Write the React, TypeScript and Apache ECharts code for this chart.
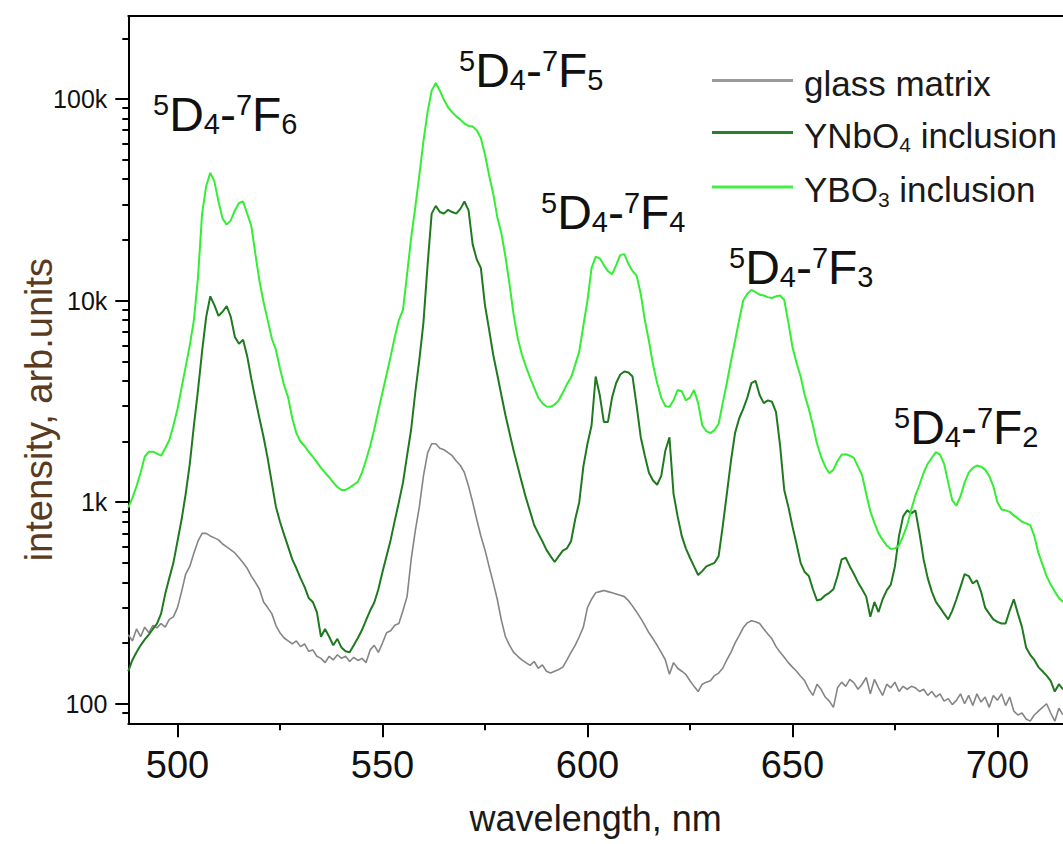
import { useEffect, useRef } from "react";
import * as echarts from "echarts";

// ---- data ----
const wavelengths = [
  488, 489, 490, 491, 492, 493, 494, 495, 496, 497,
  498, 499, 500, 501, 502, 503, 504, 505, 506, 507,
  508, 509, 510, 511, 512, 513, 514, 515, 516, 517,
  518, 519, 520, 521, 522, 523, 524, 525, 526, 527,
  528, 529, 530, 531, 532, 533, 534, 535, 536, 537,
  538, 539, 540, 541, 542, 543, 544, 545, 546, 547,
  548, 549, 550, 551, 552, 553, 554, 555, 556, 557,
  558, 559, 560, 561, 562, 563, 564, 565, 566, 567,
  568, 569, 570, 571, 572, 573, 574, 575, 576, 577,
  578, 579, 580, 581, 582, 583, 584, 585, 586, 587,
  588, 589, 590, 591, 592, 593, 594, 595, 596, 597,
  598, 599, 600, 601, 602, 603, 604, 605, 606, 607,
  608, 609, 610, 611, 612, 613, 614, 615, 616, 617,
  618, 619, 620, 621, 622, 623, 624, 625, 626, 627,
  628, 629, 630, 631, 632, 633, 634, 635, 636, 637,
  638, 639, 640, 641, 642, 643, 644, 645, 646, 647,
  648, 649, 650, 651, 652, 653, 654, 655, 656, 657,
  658, 659, 660, 661, 662, 663, 664, 665, 666, 667,
  668, 669, 670, 671, 672, 673, 674, 675, 676, 677,
  678, 679, 680, 681, 682, 683, 684, 685, 686, 687,
  688, 689, 690, 691, 692, 693, 694, 695, 696, 697,
  698, 699, 700, 701, 702, 703, 704, 705, 706, 707,
  708, 709, 710, 711, 712, 713, 714, 715, 716,
];

const glassMatrix = [
  220, 205, 235, 215, 240, 225, 245, 238, 250, 240,
  262, 270, 300, 360, 440, 480, 560, 640, 700, 700,
  680, 665, 650, 620, 600, 580, 560, 530, 500, 470,
  430, 400, 370, 320, 300, 280, 245, 225, 212, 205,
  198, 205, 192, 198, 182, 185, 172, 168, 160, 172,
  165, 175, 168, 172, 162, 170, 164, 168, 160, 185,
  195, 180, 200, 225, 230, 245, 250, 290, 340, 520,
  720, 950, 1350, 1750, 1950, 1950, 1850, 1820, 1760, 1700,
  1600, 1520, 1400, 1200, 1000, 820, 680, 580, 480, 400,
  330, 260, 215, 195, 180, 172, 165, 160, 155, 162,
  150, 156, 145, 142, 145, 148, 152, 165, 180, 195,
  215, 240, 300, 330, 355, 360, 365, 360, 355, 350,
  345, 340, 325, 305, 285, 265, 245, 225, 210, 195,
  180, 165, 140, 160, 150, 145, 140, 130, 122, 115,
  125, 128, 130, 138, 142, 150, 165, 180, 200, 218,
  238, 252, 258, 255, 250, 235, 222, 210, 192, 180,
  170, 160, 152, 145, 137, 130, 118, 110, 125, 118,
  108, 103, 96, 120, 128, 122, 132, 127, 118, 125,
  135, 112, 132, 120, 110, 125, 120, 128, 115, 122,
  118, 122, 120, 115, 118, 110, 115, 108, 112, 103,
  106, 99, 104, 112, 100, 110, 98, 112, 102, 108,
  96, 110, 104, 112, 98, 108, 92, 88, 90, 84,
  82, 88, 92, 96, 100, 90, 82, 95, 88,
];

const ynbo4Inclusion = [
  145, 165, 180, 195, 208, 220, 235, 250, 280, 350,
  420, 500, 640, 820, 1100, 1550, 2400, 3600, 5600, 8300,
  10500, 9500, 8400, 8800, 9400, 8300, 6600, 6100, 6400, 5300,
  4100, 3250, 2600, 2100, 1650, 1250, 950, 800, 690, 600,
  520, 470, 420, 380, 335, 320, 285, 215, 235, 215,
  195, 210, 190, 182, 180, 195, 212, 232, 260, 290,
  318, 370, 450, 540, 650, 810, 1000, 1250, 1700, 2300,
  3500, 5100, 7800, 15000, 27000, 29500, 27500, 27000, 28200, 27500,
  27000, 28500, 31000, 28000, 19000, 16000, 14500, 9500, 7200, 5400,
  4300, 3400, 2700, 2200, 1800, 1500, 1250, 1050, 900, 770,
  700, 640, 580, 540, 505, 540, 575, 590, 640, 820,
  1000, 1500, 1950, 2400, 4200, 3400, 2500, 2500, 3300, 3900,
  4300, 4450, 4400, 4200, 3000, 2100, 1700, 1400, 1280, 1220,
  1350, 1800, 2100, 1100, 850, 680, 590, 530, 480, 435,
  455, 480, 490, 500, 540, 760, 1100, 1600, 2200, 2600,
  2900, 3300, 3900, 4000, 3400, 3100, 3200, 3150, 2800, 1900,
  1150, 950, 760, 620, 500, 450, 430, 370, 325, 330,
  345, 355, 370, 430, 520, 530, 480, 440, 400, 370,
  340, 270, 320, 285, 330, 365, 390, 480, 680, 850,
  910, 880, 910, 700, 520, 420, 360, 320, 300, 280,
  262, 290, 330, 380, 440, 430, 395, 410, 360, 300,
  280, 262, 255, 250, 250, 290, 330, 280, 240, 190,
  175, 165, 152, 145, 138, 130, 115, 125, 118,
];

const ybo3Inclusion = [
  940, 1050, 1200, 1400, 1680, 1780, 1780, 1740, 1700, 1850,
  2030, 2400, 2900, 3700, 4700, 6000, 8000, 13000, 27000, 37000,
  43000, 39000, 31000, 25500, 23800, 25000, 28000, 30500, 31000, 27000,
  23500, 17000, 12500, 9800, 8000, 6500, 5700, 4600, 3800, 3300,
  2600, 2200, 2000, 1900, 1780, 1680, 1580, 1480, 1400, 1330,
  1250, 1190, 1150, 1150, 1180, 1220, 1260, 1400, 1620, 1900,
  2300, 2850, 3500, 4300, 5300, 6600, 8000, 9000, 13500, 20500,
  29000, 42000, 62000, 86000, 110000, 120000, 110000, 99000, 91000, 86000,
  82000, 79000, 75500, 73500, 73000, 70000, 64000, 53000, 42000, 34000,
  26000, 21600, 16500, 12000, 8500, 6500, 5400, 4700, 4150, 3700,
  3300, 3100, 2980, 2970, 3050, 3200, 3500, 3850, 4150, 4800,
  5600, 7500, 10000, 14500, 16500, 16200, 15000, 14000, 13500, 15000,
  16800, 17000, 15200, 14000, 13300, 10800, 8000, 6300, 4800, 3900,
  3300, 3000, 2970, 3200, 3600, 3550, 3200, 3300, 3600, 3100,
  2400, 2250, 2200, 2280, 2450, 3100, 3900, 5000, 6300, 8000,
  10000, 10800, 11300, 11000, 10700, 10600, 10400, 10300, 10500, 10600,
  10100, 7800, 5900, 4900, 4200, 3400, 2900, 2400, 1950, 1680,
  1500, 1390, 1450, 1600, 1720, 1730, 1700, 1660, 1500, 1360,
  1100, 900, 790, 700, 650, 610, 585, 590, 610, 680,
  770, 920, 1080, 1220, 1400, 1550, 1660, 1770, 1720, 1550,
  1250, 1020, 960, 1070, 1250, 1400, 1480, 1520, 1500, 1450,
  1350, 1200, 1000, 920, 910, 895, 860, 830, 800, 785,
  770, 680, 560, 490, 430, 390, 360, 335, 320,
];

const seriesNames = ["glass matrix", "YNbO4 inclusion", "YBO3 inclusion"];
const xMajorTicks = [500, 550, 600, 650, 700];
const xMinorTicks = [525, 575, 625, 675];
const yMajorTicks = [100, 1000, 10000, 100000];
const yTickLabels = ["100", "1k", "10k", "100k"];
const yMinorTicks = [
  90, 200, 300, 400, 500, 600, 700, 800, 900,
  2000, 3000, 4000, 5000, 6000, 7000, 8000, 9000,
  20000, 30000, 40000, 50000, 60000, 70000, 80000, 90000, 200000,
];
const transitionFinalJ = ["6", "5", "4", "3", "2"];

const FONT = "'Liberation Sans', Arial, Helvetica, sans-serif";

export default function App() {
  const ref = useRef<HTMLDivElement>(null);

  useEffect(() => {
    if (!ref.current) return;
    const chart = echarts.init(ref.current, null, { renderer: "svg" });

    const pairs = (vals: number[]) => wavelengths.map((w, i) => [w, vals[i]]);
    const colors = ["#858585", "#1f7a1f", "#33ee33"];
    const legendColors = ["#9a9a9a", "#2a7f2a", "#44ee44"];
    const widths = [1.6, 2, 2];
    const values = [glassMatrix, ynbo4Inclusion, ybo3Inclusion];

    const labelPos = [
      [153, 90],
      [459, 46],
      [541, 188],
      [729, 243],
      [894, 403],
    ];

    const axisBlack = { color: "#000", width: 2 };

    const option: any = {
      animation: false,
      backgroundColor: "#ffffff",
      textStyle: { fontFamily: FONT },
      grid: {
        left: 128.3,
        right: 0,
        top: 16,
        bottom: 120.7,
        containLabel: false,
        outerBoundsMode: "none",
      },
      legend: {
        orient: "vertical",
        left: 712,
        top: 65.5,
        padding: 0,
        icon: "rect",
        itemWidth: 81,
        itemHeight: 3,
        itemGap: 17,
        data: seriesNames.map((name, k) => ({ name, itemStyle: { color: legendColors[k] } })),
        formatter: (name: string) => "{t|" + name.replace(/(\d)/g, "}{s|$1}{t|") + "}",
        textStyle: {
          fontFamily: FONT,
          color: "#1a1a1a",
          padding: [5, 0, 0, 6],
          rich: {
            t: { fontSize: 35, lineHeight: 40, fontFamily: FONT, color: "#1a1a1a" },
            s: { fontSize: 21, lineHeight: 22, verticalAlign: "bottom", fontFamily: FONT, color: "#1a1a1a" },
          },
        },
      },
      xAxis: [
        {
          type: "value",
          min: 488,
          max: 716,
          position: "bottom",
          axisLine: { show: true, lineStyle: axisBlack },
          axisTick: { show: true, customValues: xMajorTicks, length: 14, lineStyle: axisBlack },
          axisLabel: { customValues: xMajorTicks, margin: 23, fontSize: 38, color: "#111", fontFamily: FONT },
          splitLine: { show: false },
          name: "wavelength, nm",
          nameLocation: "middle",
          nameGap: 77,
          nameMoveOverlap: false,
          nameTextStyle: { fontSize: 36, color: "#1a1a1a", fontFamily: FONT },
        },
        {
          type: "value",
          min: 488,
          max: 716,
          position: "bottom",
          axisLine: { show: false },
          axisTick: { show: true, customValues: xMinorTicks, length: 7, lineStyle: axisBlack },
          axisLabel: { show: false },
          splitLine: { show: false },
        },
        {
          type: "value",
          min: 488,
          max: 716,
          position: "top",
          axisLine: { show: true, lineStyle: axisBlack },
          axisTick: { show: false },
          axisLabel: { show: false },
          splitLine: { show: false },
        },
      ],
      yAxis: [
        {
          type: "log",
          logBase: 10,
          min: 80,
          max: 258000,
          position: "left",
          axisLine: { show: true, lineStyle: axisBlack },
          axisTick: { show: true, customValues: yMajorTicks, length: 13, lineStyle: axisBlack },
          axisLabel: {
            customValues: yMajorTicks,
            margin: 21,
            fontSize: 25,
            color: "#111",
            fontFamily: FONT,
            formatter: (v: number) => {
              const idx = yMajorTicks.findIndex((t) => Math.abs(Math.log10(t) - Math.log10(v)) < 1e-6);
              return idx >= 0 ? yTickLabels[idx] : "";
            },
          },
          splitLine: { show: false },
          name: "intensity, arb.units",
          nameLocation: "middle",
          nameRotate: 90,
          nameGap: 70,
          nameMoveOverlap: false,
          nameTextStyle: { fontSize: 38, color: "#5a3a20", fontFamily: FONT, padding: [0, 80, 0, 0] },
        },
        {
          type: "log",
          logBase: 10,
          min: 80,
          max: 258000,
          position: "left",
          axisLine: { show: false },
          axisTick: { show: true, customValues: yMinorTicks, length: 6, lineStyle: axisBlack },
          axisLabel: { show: false },
          splitLine: { show: false },
        },
      ],
      series: seriesNames.map((name, k) => ({
        name,
        type: "line",
        xAxisIndex: 0,
        yAxisIndex: 0,
        data: pairs(values[k]),
        symbol: "none",
        showSymbol: false,
        smooth: false,
        clip: true,
        lineStyle: { color: colors[k], width: widths[k] },
        itemStyle: { color: colors[k] },
        z: 2 + k,
      })),
      graphic: transitionFinalJ.map((j, i) => ({
        type: "text",
        x: labelPos[i][0],
        y: labelPos[i][1],
        silent: true,
        style: {
          text: `{sup|5}{m|D}{sub|4}{m|-}{sup|7}{m|F}{sub|${j}}`,
          align: "left",
          verticalAlign: "top",
          fill: "#111",
          rich: {
            m: { fontSize: 48, lineHeight: 48, fontFamily: FONT, fill: "#111" },
            sup: { fontSize: 29, lineHeight: 35, verticalAlign: "top", fontFamily: FONT, fill: "#111" },
            sub: { fontSize: 29, lineHeight: 29, verticalAlign: "bottom", fontFamily: FONT, fill: "#111" },
          },
        },
      })),
    };

    chart.setOption(option);
    return () => chart.dispose();
  }, []);

  return (
    <div
      ref={ref}
      style={{ position: "absolute", left: 0, top: 0, width: 1063, height: 844 }}
    />
  );
}
